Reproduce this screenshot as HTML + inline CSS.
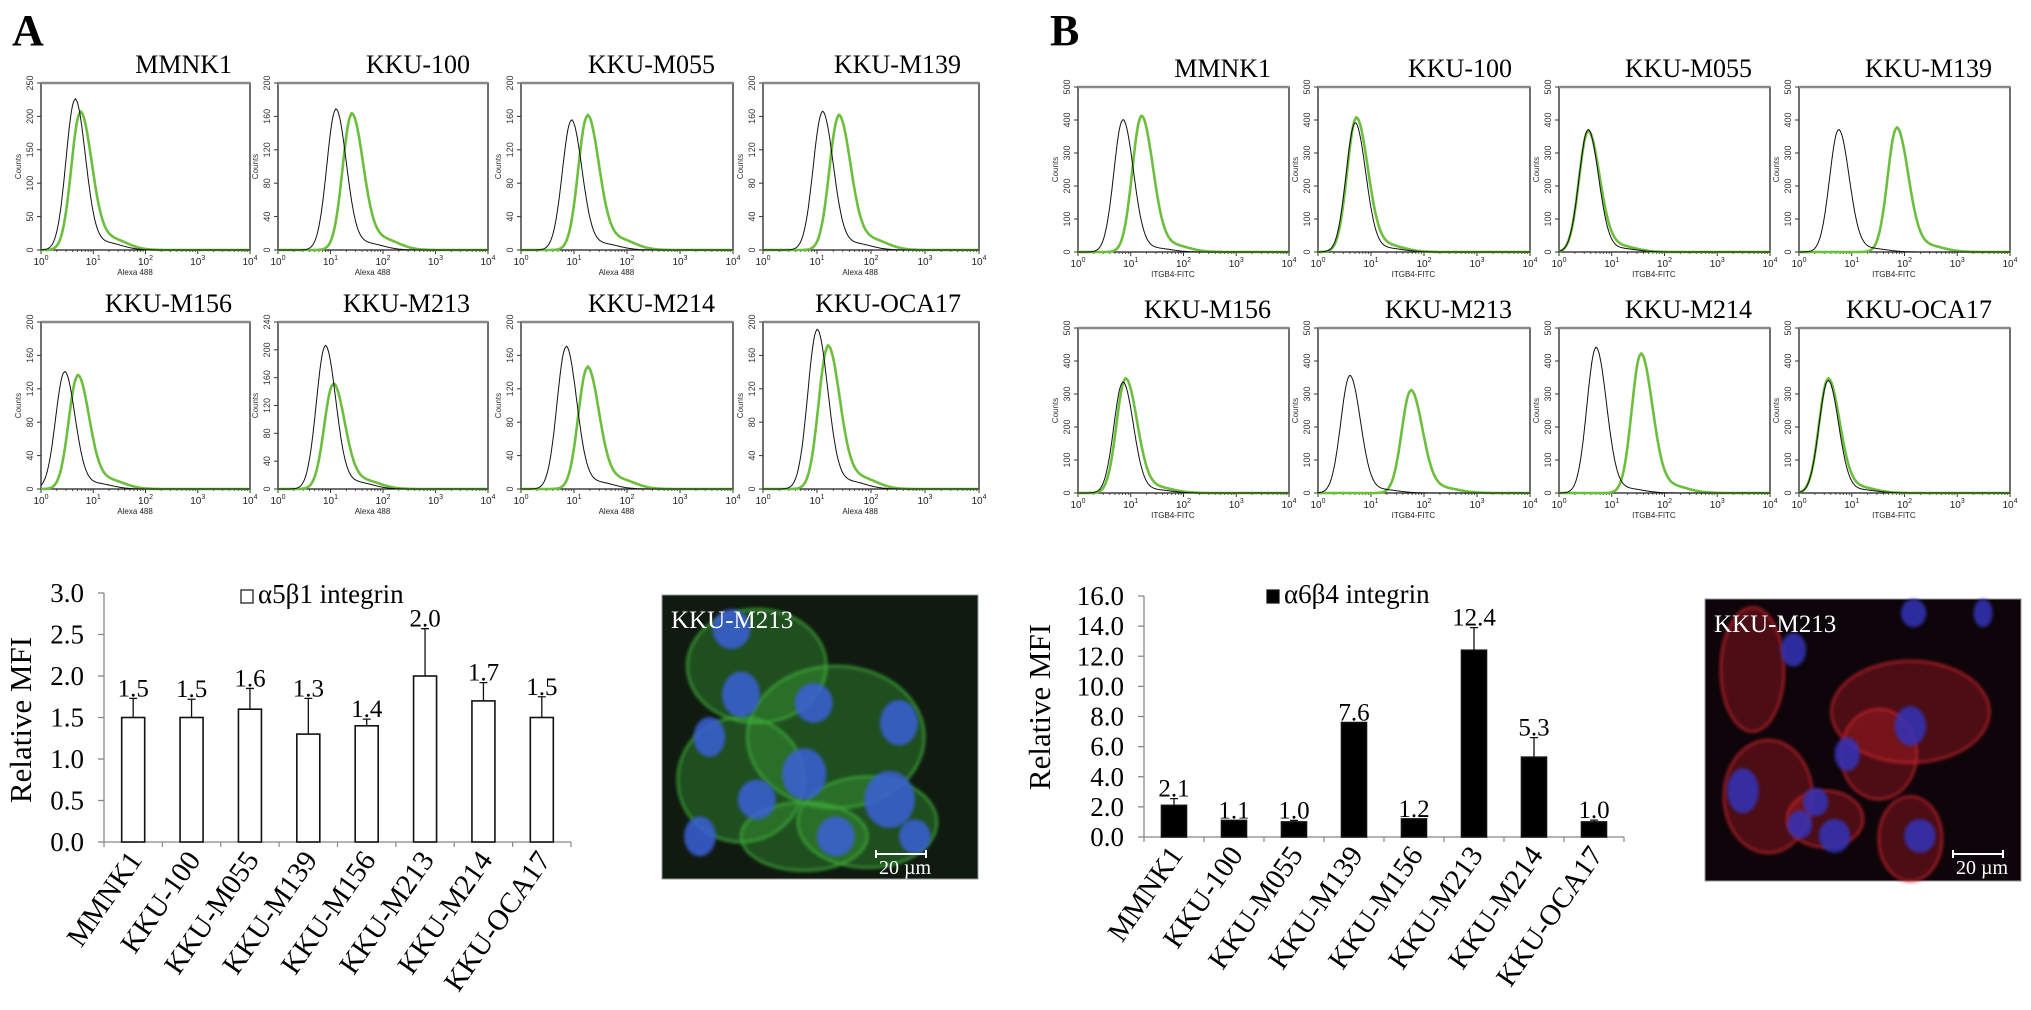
<!DOCTYPE html>
<html><head><meta charset="utf-8"><style>
html,body{margin:0;padding:0;background:#fff;}
svg{display:block;}
text{font-family:"Liberation Serif",serif;}
.sans{font-family:"Liberation Sans",sans-serif;}
</style></head>
<body>
<svg id="fig" width="2031" height="1010" viewBox="0 0 2031 1010" xmlns="http://www.w3.org/2000/svg">
<defs>
<filter id="blur2" x="-50%" y="-50%" width="200%" height="200%"><feGaussianBlur stdDeviation="3"/></filter>
<filter id="blur1" x="-50%" y="-50%" width="200%" height="200%"><feGaussianBlur stdDeviation="1.5"/></filter>
</defs>
<text x="12" y="45" font-size="44" font-weight="bold">A</text>
<text x="1050" y="45" font-size="44" font-weight="bold">B</text>
</svg>
<script>
// ---------- histogram data ----------
const cellLines = ["MMNK1","KKU-100","KKU-M055","KKU-M139","KKU-M156","KKU-M213","KKU-M214","KKU-OCA17"];
const histYMaxA = [250,200,200,200,200,240,200,200];
const histYStepA = [50,40,40,40,40,40,40,40];
const ctrlPeakA = [0.65,1.1,0.95,1.1,0.45,0.9,0.85,1.0];
const ctrlHeightA = [225,168,155,165,140,205,170,190];
const grnPeakA = [0.75,1.4,1.25,1.4,0.7,1.05,1.25,1.2];
const grnHeightA = [205,162,160,160,135,150,145,170];
const histYMaxB = [500,500,500,500,500,500,500,500];
const histYStepB = [100,100,100,100,100,100,100,100];
const ctrlPeakB = [0.85,0.7,0.55,0.75,0.85,0.6,0.7,0.55];
const ctrlHeightB = [400,390,370,370,335,355,440,340];
const grnPeakB = [1.2,0.72,0.55,1.85,0.9,1.75,1.55,0.55];
const grnHeightB = [410,405,365,375,345,310,420,345];
// ---------- bar chart data ----------
const barCategories = ["MMNK1","KKU-100","KKU-M055","KKU-M139","KKU-M156","KKU-M213","KKU-M214","KKU-OCA17"];
const mfiA = [1.5,1.5,1.6,1.3,1.4,2.0,1.7,1.5];
const errA = [0.23,0.22,0.25,0.43,0.08,0.57,0.22,0.25];
const labelsA = ["1.5","1.5","1.6","1.3","1.4","2.0","1.7","1.5"];
const yTicksA = [0,0.5,1.0,1.5,2.0,2.5,3.0];
const mfiB = [2.1,1.1,1.0,7.6,1.2,12.4,5.3,1.0];
const errB = [0.45,0,0.1,0,0,1.5,1.3,0.12];
const labelsB = ["2.1","1.1","1.0","7.6","1.2","12.4","5.3","1.0"];
const yTicksB = [0,2,4,6,8,10,12,14,16];

const NS="http://www.w3.org/2000/svg";
const svg=document.getElementById('fig');
function mk(tag,attrs,parent){const e=document.createElementNS(NS,tag);for(const k in attrs)e.setAttribute(k,attrs[k]);(parent||svg).appendChild(e);return e;}

function curve(peak,height,sl,sr,tail){
  const pts=[];
  for(let l=0;l<=4.001;l+=0.02){
    const s=l<peak?sl:sr;
    let v=height*Math.exp(-((l-peak)*(l-peak))/(2*s*s));
    if(l>peak)v+=height*tail*Math.exp(-((l-peak-0.6)*(l-peak-0.6))/(2*0.3*0.3));
    pts.push([l,v]);
  }
  return pts;
}

function drawHist(g,x0,y0,x1,y1,ymax,ystep,cp,ch,gp,gh,title,xlab,tail,grnCol){
  const xs=l=>x0+(x1-x0)*l/4;
  const ys=v=>y1-(y1-y0)*v/ymax;
  const t=mk('text',{x:x1-18,y:y0-10,'font-size':26,'text-anchor':'end'},g);
  t.textContent=title;
  
  
  const fr=mk('rect',{x:x0,y:y0,width:x1-x0,height:y1-y0,fill:'none',stroke:'#222','stroke-width':1.3},g);
  
  
  mk('line',{x1:x0,y1:y0,x2:x1,y2:y0,stroke:'#888','stroke-width':2.5},g);
  for(let v=0;v<=ymax+0.1;v+=ystep){
    const yy=ys(v);
    mk('line',{x1:x0-4,y1:yy,x2:x0,y2:yy,stroke:'#333','stroke-width':1},g);
    const lt=mk('text',{x:x0-8,y:yy,'font-size':9,'text-anchor':'middle',transform:`rotate(-90 ${x0-8} ${yy})`,class:'sans',fill:'#333'},g);
    lt.textContent=v;
    
    
  }
  const cl=mk('text',{x:x0-20,y:(y0+y1)/2,'font-size':8,'text-anchor':'middle',transform:`rotate(-90 ${x0-20} ${(y0+y1)/2})`,class:'sans',fill:'#333'},g);
  cl.textContent='Counts';
  
  
  for(let d=0;d<=4;d++){
    const xx=xs(d);
    mk('line',{x1:xx,y1:y1,x2:xx,y2:y1+4,stroke:'#333','stroke-width':1},g);
    for(let m=2;m<10&&d<4;m++){const xm=xs(d+Math.log10(m));mk('line',{x1:xm,y1:y1,x2:xm,y2:y1+2,stroke:'#333','stroke-width':0.8},g);}
    const xt=mk('text',{x:xx,y:y1+15,'font-size':10,'text-anchor':'middle',class:'sans',fill:'#222'},g);
    xt.textContent='10';
    const sup=mk('tspan',{dy:-5,'font-size':7},xt);sup.textContent=d;
    
    
  }
  const xl=mk('text',{x:x0+(x1-x0)*0.45,y:y1+25,'font-size':8,'text-anchor':'middle',class:'sans',fill:'#222'},g);
  xl.textContent=xlab;
  
  
  const gpts=curve(gp,gh,0.17,0.22,tail).map(p=>xs(p[0]).toFixed(1)+','+ys(p[1]).toFixed(1)).join(' ');
  const gl=mk('polyline',{points:gpts,fill:'none',stroke:grnCol,'stroke-width':2.6},g);
  
  
  const cpts=curve(cp,ch,0.17,0.2,tail*0.6).map(p=>xs(p[0]).toFixed(1)+','+ys(p[1]).toFixed(1)).join(' ');
  const kl=mk('polyline',{points:cpts,fill:'none',stroke:'#111','stroke-width':1},g);
  
  
}

const aL=[41,278,521,763],aR=[250,488,733,979],aT=[83,322],aB=[250,489];
const bL=[1078,1318,1559,1799],bR=[1289,1530,1770,2010],bT=[87,328],bB=[252,493];
for(let i=0;i<8;i++){
  const c=i%4,r=Math.floor(i/4);
  const g=mk('g',{});
  
  
  drawHist(g,aL[c],aT[r],aR[c],aB[r],histYMaxA[i],histYStepA[i],ctrlPeakA[i],ctrlHeightA[i],grnPeakA[i],grnHeightA[i],cellLines[i],'Alexa 488',0.08,'#6cbf3c');
  const g2=mk('g',{});
  
  
  drawHist(g2,bL[c],bT[r],bR[c],bB[r],histYMaxB[i],histYStepB[i],ctrlPeakB[i],ctrlHeightB[i],grnPeakB[i],grnHeightB[i],cellLines[i],'ITGB4-FITC',0.05,'#6cbf3c');
}

function drawBars(name,x0,x1,yTop,yBot,ymax,ticks,vals,errs,labs,filled,legend,legX,legY,tickFmt,ylabX,ylabY,barW){
  const g=mk('g',{});
  
  
  const ys=v=>yBot-(yBot-yTop)*v/ymax;
  const slot=(x1-x0)/barCategories.length;
  const ax=mk('line',{x1:x0,y1:yTop,x2:x0,y2:yBot,stroke:'#888','stroke-width':1.3},g);
  
  
  const bx=mk('line',{x1:x0,y1:yBot,x2:x1,y2:yBot,stroke:'#888','stroke-width':1.3},g);
  
  
  ticks.forEach(v=>{
    const yy=ys(v);
    mk('line',{x1:x0-6,y1:yy,x2:x0,y2:yy,stroke:'#888','stroke-width':1.3},g);
    const t=mk('text',{x:x0-20,y:yy+9,'font-size':27,'text-anchor':'end'},g);
    t.textContent=tickFmt(v);
    
    
  });
  for(let i=0;i<=barCategories.length;i++){const xx=x0+slot*i;mk('line',{x1:xx,y1:yBot,x2:xx,y2:yBot+5,stroke:'#888','stroke-width':1.2},g);}
  const yl=mk('text',{x:ylabX,y:ylabY,'font-size':31,'text-anchor':'middle',transform:`rotate(-90 ${ylabX} ${ylabY})`},g);
  yl.textContent='Relative MFI';
  
  
  barCategories.forEach((c,i)=>{
    const cx=x0+slot*(i+0.5);
    const top=ys(vals[i]);
    const b=mk('rect',{x:cx-barW/2,y:top,width:barW,height:yBot-top,fill:filled?'#000':'#fff',stroke:'#111','stroke-width':1.6},g);
    
    
    if(errs[i]>0){
      const et=ys(vals[i]+errs[i]);
      const e=mk('path',{d:`M${cx},${top} V${et} M${cx-4},${et} H${cx+4}`,stroke:'#111','stroke-width':1.3,fill:'none'},g);
      
      
    }
    const vl=mk('text',{x:cx,y:Math.min(top,ys(vals[i]+errs[i]))-2,'font-size':25,'text-anchor':'middle'},g);
    vl.textContent=labs[i];
    
    
    const lx=cx+10,ly=yBot+18;
    const xl=mk('text',{x:lx,y:ly,'font-size':29,'text-anchor':'end',transform:`rotate(-55 ${lx} ${ly})`},g);
    xl.textContent=c;
    
    
  });
  const lb=mk('rect',{x:legX,y:legY-13,width:12,height:13,fill:filled?'#000':'#fff',stroke:'#111','stroke-width':1.2},g);
  
  
  const lt=mk('text',{x:legX+17,y:legY,'font-size':27},g);
  lt.textContent=legend;
  
  
}
drawBars('bar-chart-a5b1',104,571,593,842,3,yTicksA,mfiA,errA,labelsA,false,'α5β1 integrin',241,603,v=>v.toFixed(1),31,720,23);
drawBars('bar-chart-a6b4',1144,1624,596,837,16,yTicksB,mfiB,errB,labelsB,true,'α6β4 integrin',1267,603,v=>v.toFixed(1),1050,707,25);

// ---------- micrographs ----------
function micro(name,x,y,w,h,bg,memb,nuc,cells,nucs,sx,sy){
  const g=mk('g',{});
  
  
  mk('rect',{x:x,y:y,width:w,height:h,fill:bg,stroke:'#999','stroke-width':1},g);
  const cg=mk('g',{filter:'url(#blur1)'},g);
  cells.forEach(c=>mk('ellipse',{cx:x+c[0]*w,cy:y+c[1]*h,rx:c[2]*w,ry:c[3]*h,fill:memb,'fill-opacity':0.35,stroke:memb,'stroke-width':2.5,'stroke-opacity':0.8},cg));
  const ng=mk('g',{filter:'url(#blur1)'},g);
  nucs.forEach(n=>mk('ellipse',{cx:x+n[0]*w,cy:y+n[1]*h,rx:n[2]*w,ry:n[3]*h,fill:nuc,'fill-opacity':0.85},ng));
  const t=mk('text',{x:x+9,y:y+33,'font-size':25,fill:'#fff'},g);
  t.textContent='KKU-M213';
  
  
  mk('path',{d:`M${sx},${sy} H${sx+50} M${sx},${sy-4} V${sy+4} M${sx+50},${sy-4} V${sy+4}`,stroke:'#fff','stroke-width':2},g);
  const st=mk('text',{x:sx+3,y:sy+20,'font-size':20,fill:'#fff'},g);
  st.textContent='20 µm';
  
  
}
micro('micrograph-a5b1',662,595,316,284,'#101a10','#3fae3a','#3a5fd8',
 [[0.3,0.25,0.22,0.2],[0.55,0.5,0.28,0.25],[0.25,0.65,0.2,0.22],[0.65,0.8,0.22,0.16],[0.45,0.85,0.2,0.12]],
 [[0.22,0.12,0.06,0.07],[0.25,0.35,0.06,0.08],[0.48,0.38,0.06,0.07],[0.75,0.45,0.06,0.08],[0.15,0.5,0.05,0.07],[0.45,0.63,0.07,0.09],[0.72,0.72,0.08,0.1],[0.3,0.72,0.06,0.07],[0.55,0.85,0.06,0.07],[0.8,0.85,0.05,0.06],[0.12,0.85,0.05,0.07]],
 876,854);
micro('micrograph-a6b4',1705,599,316,282,'#0d0509','#c3222a','#3434b8',
 [[0.65,0.4,0.25,0.18],[0.55,0.55,0.12,0.16],[0.2,0.7,0.14,0.2],[0.38,0.78,0.12,0.1],[0.65,0.85,0.1,0.15],[0.15,0.25,0.1,0.22]],
 [[0.65,0.45,0.05,0.07],[0.45,0.55,0.04,0.06],[0.12,0.68,0.05,0.08],[0.35,0.72,0.04,0.05],[0.3,0.8,0.04,0.05],[0.41,0.84,0.05,0.06],[0.68,0.84,0.05,0.06],[0.28,0.18,0.04,0.06],[0.66,0.05,0.04,0.05],[0.88,0.05,0.03,0.05]],
 1953,854);
</script>
</body></html>
